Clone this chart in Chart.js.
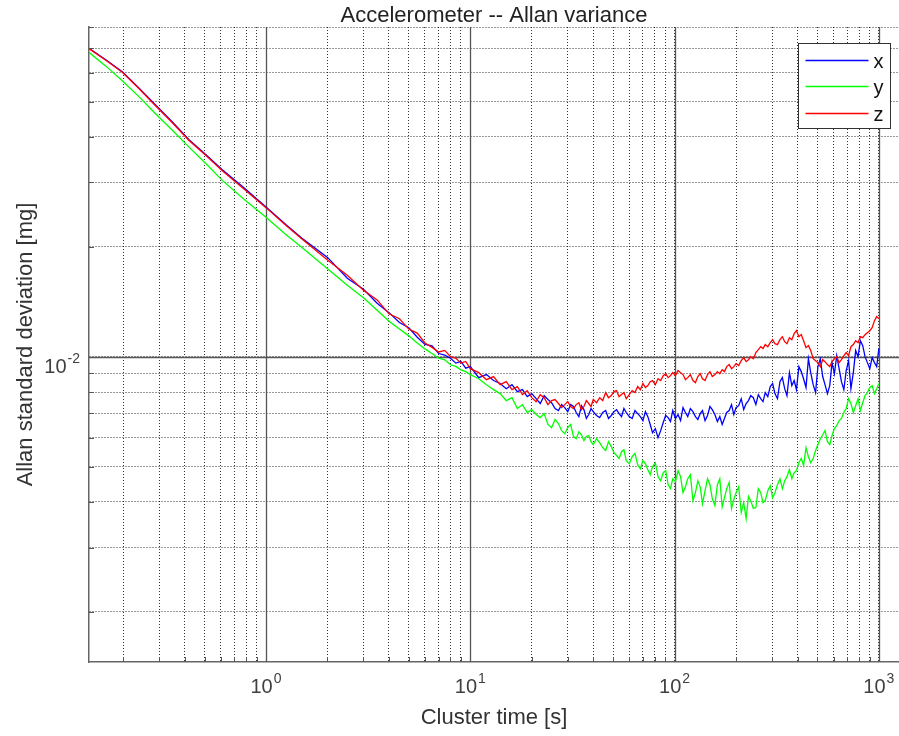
<!DOCTYPE html>
<html>
<head>
<meta charset="utf-8">
<title>Accelerometer -- Allan variance</title>
<script src="https://cdn.jsdelivr.net/npm/chart.js@4.4.1/dist/chart.umd.min.js"></script>
<style>
  html, body { margin: 0; padding: 0; background: #fff; }
  #wrap { width: 899px; height: 736px; }
</style>
</head>
<body>
<div id="wrap"><canvas id="allan" width="899" height="736"></canvas></div>
<script>
// cluster times [s]
const clusterTime = [
  0.136, 0.165, 0.198, 0.24, 0.288, 0.35, 0.42, 0.51, 0.611, 0.78,
  1, 1.25, 1.5, 2, 2.5, 3, 3.5, 4, 4.5, 5,
  5.5, 6, 6.5, 7, 7.5, 8, 8.5, 9, 9.5,
  10, 11, 12, 13, 14, 15, 16, 17, 18, 19,
  20, 21, 22, 23, 24, 25, 26, 27, 28, 29,
  30, 31, 32, 33, 34, 35, 36, 37, 38, 39,
  40, 41.5, 43, 44.5, 46, 47.5, 49, 50.5, 52, 53.5,
  55, 56.5, 58, 60, 62, 64, 66, 68, 70, 72,
  74, 76, 78, 80.5, 83, 85.5, 88, 90.5, 93, 95.5,
  98, 101, 104, 107, 110, 113, 116, 119.5, 123, 126.5,
  130, 133.5, 137, 141, 145, 149, 153, 157.5, 162, 166.5,
  171, 175.5, 180, 185, 190, 195, 200, 206, 212, 218,
  224, 230, 236, 243, 250, 257, 264, 271, 278, 286,
  294, 302, 310, 319, 328, 337, 346, 355, 365, 375,
  385, 395, 406, 417, 428, 440, 452, 464, 477, 490,
  503, 517, 531, 545, 560, 575, 590, 606, 622, 639,
  656, 674, 692, 711, 730, 750, 770, 791, 812, 834,
  856, 879, 903, 927, 952, 976, 1000
];

// allan deviation [mg], axis x
const sigmaX = [
  0.0700, 0.0650, 0.0603, 0.0543, 0.0489, 0.0438, 0.0393, 0.0357, 0.0325, 0.0290,
  0.0257, 0.0230, 0.0211, 0.0187, 0.0164, 0.0153, 0.0140, 0.0132, 0.0124, 0.0120,
  0.0113, 0.0108, 0.0107, 0.0102, 0.0101, 0.0099, 0.0096, 0.0097, 0.0093,
  0.00939, 0.00876, 0.00893, 0.00860, 0.00844, 0.00817, 0.00838, 0.00802, 0.00812, 0.00777,
  0.00792, 0.00767, 0.00744, 0.00782, 0.00763, 0.00748, 0.00721, 0.00712, 0.00739, 0.00725,
  0.00707, 0.00739, 0.00730, 0.00703, 0.00685, 0.00734, 0.00716, 0.00677, 0.00694, 0.00721,
  0.00707, 0.00690, 0.00681, 0.00703, 0.00712, 0.00677, 0.00690, 0.00707, 0.00716, 0.00698,
  0.00685, 0.00721, 0.00703, 0.00685, 0.00677, 0.00712, 0.00698, 0.00685, 0.00668, 0.00707,
  0.00685, 0.00652, 0.00619, 0.00635, 0.00600, 0.00627, 0.00660, 0.00690, 0.00681, 0.00664,
  0.00712, 0.00677, 0.00694, 0.00668, 0.00725, 0.00703, 0.00685, 0.00721, 0.00707, 0.00685,
  0.00673, 0.00698, 0.00712, 0.00668, 0.00690, 0.00730, 0.00716, 0.00694, 0.00664, 0.00685,
  0.00652, 0.00677, 0.00703, 0.00712, 0.00739, 0.00694, 0.00725, 0.00734, 0.00767, 0.00716,
  0.00744, 0.00758, 0.00782, 0.00772, 0.00739, 0.00787, 0.00767, 0.00753, 0.00797, 0.00777,
  0.00828, 0.00844, 0.00792, 0.00767, 0.00854, 0.00876, 0.00817, 0.00782, 0.00904, 0.00833,
  0.00860, 0.00812, 0.00939, 0.00910, 0.00870, 0.00823, 0.00987, 0.00904, 0.00838, 0.00797,
  0.00939, 0.00987, 0.00882, 0.00838, 0.00792, 0.00833, 0.00963, 0.00898, 0.01006, 0.00927,
  0.00854, 0.00812, 0.00916, 0.00975, 0.00817, 0.00904, 0.01039, 0.01000, 0.01106, 0.01072,
  0.01000, 0.00963, 0.00927, 0.00994, 0.00963, 0.00939, 0.01052
];
// allan deviation [mg], axis y
const sigmaY = [
  0.0682, 0.0624, 0.0570, 0.0514, 0.0463, 0.0416, 0.0375, 0.0337, 0.0304, 0.0270,
  0.0241, 0.0216, 0.0199, 0.0174, 0.0157, 0.0145, 0.0134, 0.0125, 0.0119, 0.0114,
  0.0109, 0.0105, 0.0102, 0.0099, 0.0098, 0.0095, 0.0094, 0.0092, 0.0091,
  0.00893, 0.00870, 0.00838, 0.00812, 0.00792, 0.00758, 0.00772, 0.00721, 0.00739, 0.00703,
  0.00716, 0.00694, 0.00681, 0.00698, 0.00652, 0.00639, 0.00673, 0.00656, 0.00627, 0.00615,
  0.00639, 0.00652, 0.00604, 0.00596, 0.00623, 0.00611, 0.00589, 0.00604, 0.00608, 0.00585,
  0.00574, 0.00596, 0.00581, 0.00563, 0.00553, 0.00585, 0.00567, 0.00546, 0.00536, 0.00526,
  0.00549, 0.00556, 0.00519, 0.00509, 0.00532, 0.00543, 0.00506, 0.00493, 0.00519, 0.00509,
  0.00490, 0.00475, 0.00500, 0.00512, 0.00469, 0.00457, 0.00481, 0.00487, 0.00446, 0.00435,
  0.00463, 0.00455, 0.00487, 0.00469, 0.00424, 0.00440, 0.00463, 0.00475, 0.00403, 0.00424,
  0.00457, 0.00440, 0.00396, 0.00429, 0.00463, 0.00446, 0.00408, 0.00391, 0.00446, 0.00463,
  0.00388, 0.00411, 0.00435, 0.00452, 0.00384, 0.00406, 0.00424, 0.00440, 0.00374, 0.00398,
  0.00360, 0.00414, 0.00403, 0.00384, 0.00386, 0.00435, 0.00424, 0.00398, 0.00403, 0.00429,
  0.00443, 0.00411, 0.00424, 0.00446, 0.00463, 0.00435, 0.00457, 0.00469, 0.00490, 0.00463,
  0.00481, 0.00487, 0.00512, 0.00526, 0.00503, 0.00563, 0.00532, 0.00512, 0.00526, 0.00553,
  0.00574, 0.00596, 0.00611, 0.00627, 0.00585, 0.00574, 0.00608, 0.00635, 0.00648, 0.00668,
  0.00677, 0.00703, 0.00721, 0.00767, 0.00744, 0.00703, 0.00734, 0.00767, 0.00712, 0.00748,
  0.00782, 0.00797, 0.00823, 0.00833, 0.00792, 0.00817, 0.00844
];
// allan deviation [mg], axis z
const sigmaZ = [
  0.0698, 0.0648, 0.0601, 0.0541, 0.0487, 0.0436, 0.0391, 0.0355, 0.0323, 0.0288,
  0.0256, 0.0229, 0.0210, 0.0184, 0.0167, 0.0152, 0.0143, 0.0131, 0.0127, 0.0119,
  0.0116, 0.0109, 0.0106, 0.0103, 0.0104, 0.0100, 0.0099, 0.0096, 0.0097,
  0.00927, 0.00904, 0.00865, 0.00882, 0.00838, 0.00854, 0.00812, 0.00828, 0.00787, 0.00807,
  0.00772, 0.00753, 0.00787, 0.00772, 0.00739, 0.00758, 0.00763, 0.00744, 0.00725, 0.00739,
  0.00753, 0.00730, 0.00721, 0.00739, 0.00748, 0.00716, 0.00730, 0.00758, 0.00744, 0.00730,
  0.00763, 0.00748, 0.00772, 0.00758, 0.00797, 0.00772, 0.00782, 0.00802, 0.00807, 0.00777,
  0.00787, 0.00797, 0.00767, 0.00787, 0.00807, 0.00797, 0.00828, 0.00812, 0.00844, 0.00823,
  0.00833, 0.00854, 0.00860, 0.00838, 0.00870, 0.00860, 0.00887, 0.00898, 0.00876, 0.00887,
  0.00904, 0.00887, 0.00916, 0.00904, 0.00893, 0.00865, 0.00876, 0.00893, 0.00860, 0.00849,
  0.00882, 0.00898, 0.00870, 0.00860, 0.00893, 0.00910, 0.00882, 0.00893, 0.00910, 0.00898,
  0.00921, 0.00910, 0.00939, 0.00951, 0.00927, 0.00939, 0.00957, 0.00945, 0.00975, 0.00994,
  0.00969, 0.00981, 0.01000, 0.00987, 0.01026, 0.01045, 0.01065, 0.01052, 0.01079, 0.01065,
  0.01092, 0.01113, 0.01085, 0.01079, 0.01113, 0.01134, 0.01099, 0.01085, 0.01127, 0.01113,
  0.01156, 0.01178, 0.01134, 0.01149, 0.01106, 0.01058, 0.01072, 0.01039, 0.00987, 0.00975,
  0.00963, 0.00939, 0.00981, 0.00969, 0.00951, 0.00939, 0.00969, 0.00987, 0.01000, 0.00963,
  0.00981, 0.01006, 0.01026, 0.01006, 0.01065, 0.01079, 0.01106, 0.01092, 0.01134, 0.01127,
  0.01149, 0.01163, 0.01178, 0.01200, 0.01255, 0.01287, 0.01271
];

const seriesNames = ['x', 'y', 'z'];
const seriesColors = ['#0000ff', '#00ff00', '#ff0000'];

// axis ticks (grid) and labelled decades
const xGridTicks = [
  0.2, 0.3, 0.4, 0.5, 0.6, 0.7, 0.8, 0.9,
  1, 2, 3, 4, 5, 6, 7, 8, 9,
  10, 20, 30, 40, 50, 60, 70, 80, 90,
  100, 200, 300, 400, 500, 600, 700, 800, 900, 1000
];
const xLabelTicks = [1, 10, 100, 1000];
const xLabelExp = ['0', '1', '2', '3'];
const yGridTicks = [
  0.002, 0.003, 0.004, 0.005, 0.006, 0.007, 0.008, 0.009,
  0.01, 0.02, 0.03, 0.04, 0.05, 0.06, 0.07, 0.08
];
const yLabelTicks = [0.01];
const yLabelExp = ['-2'];

const FONT = '"Liberation Sans", Arial, Helvetica, sans-serif';

function seg(ctx, x1, y1, x2, y2){
  ctx.beginPath();
  ctx.moveTo(x1, y1);
  ctx.lineTo(x2, y2);
  ctx.stroke();
}

// matlab style decorations: solid decade lines, inward ticks, 10^n labels, boxed legend
const matlabAxes = {
  id: 'matlabAxes',
  beforeDatasetsDraw(chart){
    const {ctx, chartArea: a, scales: {x, y}} = chart;
    ctx.save();
    ctx.strokeStyle = '#555';
    ctx.lineWidth = 1.3;
    xLabelTicks.forEach(v => {
      const px = Math.round(x.getPixelForValue(v)) + 0.5;
      seg(ctx, px, a.top, px, a.bottom);
    });
    yLabelTicks.forEach(v => {
      const py = Math.round(y.getPixelForValue(v)) + 0.5;
      seg(ctx, a.left, py, a.right, py);
    });
    ctx.restore();
  },
  afterDraw(chart){
    const {ctx, chartArea: a, scales: {x, y}} = chart;
    ctx.save();

    // inward tick marks
    ctx.strokeStyle = '#555';
    ctx.lineWidth = 1;
    xGridTicks.forEach(v => {
      const px = Math.round(x.getPixelForValue(v)) + 0.5;
      const len = xLabelTicks.includes(v) ? 8 : 5;
      seg(ctx, px, a.bottom, px, a.bottom - len);
    });
    yGridTicks.forEach(v => {
      const py = Math.round(y.getPixelForValue(v)) + 0.5;
      const len = yLabelTicks.includes(v) ? 8 : 5;
      seg(ctx, a.left, py, a.left + len, py);
    });

    // tick labels with superscript exponent
    ctx.fillStyle = '#404040';
    ctx.textBaseline = 'alphabetic';
    xLabelTicks.forEach((v, i) => {
      const px = x.getPixelForValue(v);
      ctx.font = '20px ' + FONT;
      const w1 = ctx.measureText('10').width;
      ctx.font = '14px ' + FONT;
      const w2 = ctx.measureText(xLabelExp[i]).width;
      const x0 = px - (w1 + w2 + 1) / 2;
      ctx.textAlign = 'left';
      ctx.font = '20px ' + FONT;
      ctx.fillText('10', x0, a.bottom + 31);
      ctx.font = '14px ' + FONT;
      ctx.fillText(xLabelExp[i], x0 + w1 + 1, a.bottom + 21);
    });
    yLabelTicks.forEach((v, i) => {
      const py = y.getPixelForValue(v);
      const right = a.left - 9;
      ctx.textAlign = 'right';
      ctx.font = '14px ' + FONT;
      const w2 = ctx.measureText(yLabelExp[i]).width;
      ctx.fillText(yLabelExp[i], right, py + 6);
      ctx.font = '20px ' + FONT;
      ctx.fillText('10', right - w2 - 1, py + 16);
    });

    // legend box
    const bw = 92, bh = 85;
    const bx = Math.round(a.right - 9 - bw) + 0.5;
    const by = Math.round(a.top + 16) + 0.5;
    ctx.fillStyle = '#fff';
    ctx.fillRect(bx, by, bw, bh);
    ctx.strokeStyle = '#333';
    ctx.lineWidth = 1;
    ctx.strokeRect(bx, by, bw, bh);
    ctx.textAlign = 'left';
    ctx.font = '20px ' + FONT;
    seriesNames.forEach((name, i) => {
      const ly = Math.round(by + 16 + i * 26.5) + 0.5;
      ctx.strokeStyle = seriesColors[i];
      ctx.lineWidth = 1.3;
      seg(ctx, bx + 7, ly, bx + 70, ly);
      ctx.fillStyle = '#111';
      ctx.fillText(name, bx + 75, ly + 7);
    });
    ctx.restore();
  }
};

const allSeries = [sigmaX, sigmaY, sigmaZ];
const datasets = allSeries.map((vals, i) => ({
  label: seriesNames[i],
  data: clusterTime.map((t, k) => ({x: t, y: vals[k]})),
  borderColor: seriesColors[i],
  backgroundColor: seriesColors[i],
  borderWidth: 1.3,
  pointRadius: 0,
  tension: 0,
  fill: false,
  order: 3 - i
}));

new Chart(document.getElementById('allan'), {
  type: 'line',
  data: { datasets },
  options: {
    responsive: false,
    animation: false,
    devicePixelRatio: 1,
    layout: { padding: 0 },
    plugins: {
      legend: { display: false },
      tooltip: { enabled: false },
      title: {
        display: true,
        text: 'Accelerometer -- Allan variance',
        fullSize: false,
        color: '#222',
        font: { family: FONT, size: 22, weight: 'normal', lineHeight: 1 },
        padding: { top: 5, bottom: 0 }
      }
    },
    scales: {
      x: {
        type: 'logarithmic',
        position: 'bottom',
        min: 0.136,
        max: 1255,
        afterBuildTicks: s => { s.ticks = xGridTicks.map(v => ({value: v})); },
        afterFit: s => { s.height = 74; },
        ticks: { display: false },
        grid: { color: 'rgba(0,0,0,0.8)', lineWidth: 1, drawTicks: false },
        border: { display: true, color: '#666', width: 1.5, dash: [1, 2] },
        title: {
          display: true,
          text: 'Cluster time [s]',
          color: '#333',
          font: { family: FONT, size: 22 },
          padding: { top: 0, bottom: 5 }
        }
      },
      y: {
        type: 'logarithmic',
        position: 'left',
        min: 0.001457,
        max: 0.08,
        afterBuildTicks: s => { s.ticks = yGridTicks.map(v => ({value: v})); },
        afterFit: s => { s.width = 89; },
        ticks: { display: false },
        grid: { color: 'rgba(0,0,0,0.8)', lineWidth: 1, drawTicks: false },
        border: { display: true, color: '#666', width: 1.5, dash: [1, 2] },
        title: {
          display: true,
          text: 'Allan standard deviation [mg]',
          color: '#333',
          font: { family: FONT, size: 22 },
          padding: { top: 13, bottom: 0 }
        }
      }
    }
  },
  plugins: [matlabAxes]
});
</script>
</body>
</html>
